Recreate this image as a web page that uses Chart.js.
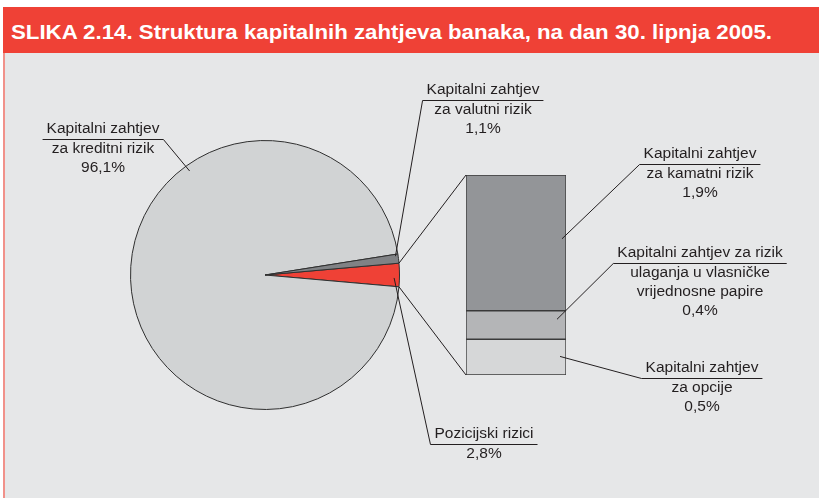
<!DOCTYPE html>
<html>
<head>
<meta charset="utf-8">
<script src="https://cdn.jsdelivr.net/npm/chart.js@4.4.1/dist/chart.umd.min.js"></script>
<style>
  html, body { margin: 0; padding: 0; background: #ffffff; }
  #wrap { position: relative; width: 819px; height: 498px; overflow: hidden; }
  #panel { position: absolute; left: 3px; top: 7px; width: 816px; height: 491px; background: #e6e7e8; }
  #edge { position: absolute; left: 3px; top: 53px; width: 2px; height: 445px; background: #f1918a; }
  #header { position: absolute; left: 3px; top: 7px; width: 816px; height: 46px; background: #ef4136; }
  #title { position: absolute; left: 11px; top: 22px; font: bold 20px "Liberation Sans Narrow", "Arial Narrow", "Liberation Sans", Arial, sans-serif; line-height: 20px; color: #ffffff; white-space: nowrap; transform-origin: 0 0; }
  #barCanvas { position: absolute; left: 461px; top: 170px; z-index: 1; }
  #pieCanvas { position: absolute; left: 0; top: 0; z-index: 2; }
</style>
</head>
<body>
<div id="wrap">
  <div id="panel"></div>
  <div id="edge"></div>
  <div id="header"></div>
  <div id="title">SLIKA 2.14. Struktura kapitalnih zahtjeva banaka, na dan 30. lipnja 2005.</div>
  <canvas id="barCanvas" width="110" height="210"></canvas>
  <canvas id="pieCanvas" width="819" height="498"></canvas>
</div>
<script>
// ---- data ----
const pieCategories = ["Pozicijski rizici", "Kapitalni zahtjev\nza kreditni rizik", "Kapitalni zahtjev\nza valutni rizik"];
const pieValues = [2.8, 96.1, 1.1];
const barCategories = ["Kapitalni zahtjev\nza opcije", "Kapitalni zahtjev za rizik\nulaganja u vlasničke\nvrijednosne papire", "Kapitalni zahtjev\nza kamatni rizik"];
const barValues = [0.5, 0.4, 1.9];

// ---- styles ----
const pieColors = ["#ef4136", "#d1d3d4", "#808285"];
const barColors = ["#d6d7d8", "#b4b5b7", "#939598"];
const ink = "#231f20";
const BAR_LEFT = 461, BAR_TOP = 170;

// fit title width
(function(){
  const t = document.getElementById('title');
  const w = t.getBoundingClientRect().width;
  const target = 761;
  t.style.transform = 'scaleX(' + (target / w) + ')';
})();

const barTotal = barValues.reduce((a,b)=>a+b,0);
const barChart = new Chart(document.getElementById('barCanvas'), {
  type: 'bar',
  data: {
    labels: [''],
    datasets: barValues.map((v,i)=>({
      label: barCategories[i],
      data: [v],
      backgroundColor: barColors[i],
      borderColor: '#3a3a3a',
      borderWidth: 1,
      borderSkipped: false,
      barPercentage: 1,
      categoryPercentage: 1
    }))
  },
  options: {
    responsive: false,
    animation: false,
    layout: { padding: 5 },
    plugins: { legend: { display: false }, tooltip: { enabled: false } },
    scales: {
      x: { stacked: true, display: false },
      y: { stacked: true, display: false, min: 0, max: barTotal }
    }
  }
});

const pieTotal = pieValues.reduce((a,b)=>a+b,0);

// label layout (positions only)
const labelLayout = [
  { src: 'pie', idx: 1, cx: 103, y1: 129, side: 'right', frac: 0.662, rf: 0.955 },
  { src: 'pie', idx: 2, cx: 483, y1: 90,  side: 'left',  frac: 0.2,   rf: 0.98 },
  { src: 'pie', idx: 0, cx: 484, y1: 434, side: 'left',  frac: 0.63,  rf: 0.96 },
  { src: 'bar', idx: 2, cx: 700, y1: 154, side: 'left',  dx: -4, yf: 0.47 },
  { src: 'bar', idx: 1, cx: 700, y1: 253, side: 'left',  dx: -9, yf: 0.3 },
  { src: 'bar', idx: 0, cx: 702, y1: 368, side: 'left',  dx: -6, yf: 0.48 }
];

function fmt(v){ return v.toFixed(1).replace('.', ',') + '%'; }

const overlay = {
  id: 'overlay',
  afterDraw(chart) {
    const ctx = chart.ctx;
    const arcs = chart.getDatasetMeta(0).data;
    const bars = barTotal ? barValues.map((_,i)=>barChart.getDatasetMeta(i).data[0]) : [];
    function barBox(el){
      const top = Math.min(el.y, el.base), bot = Math.max(el.y, el.base);
      return { left: BAR_LEFT + el.x - el.width/2, right: BAR_LEFT + el.x + el.width/2, top: BAR_TOP + top, bottom: BAR_TOP + bot };
    }
    ctx.save();
    ctx.strokeStyle = ink;
    ctx.lineWidth = 1;
    // connector lines from red slice to the stacked bar
    const red = arcs[0];
    const topBox = barBox(bars[bars.length-1]);
    const botBox = barBox(bars[0]);
    ctx.beginPath();
    ctx.moveTo(red.x + red.outerRadius*Math.cos(red.startAngle), red.y + red.outerRadius*Math.sin(red.startAngle));
    ctx.lineTo(topBox.left, topBox.top);
    ctx.moveTo(red.x + red.outerRadius*Math.cos(red.endAngle), red.y + red.outerRadius*Math.sin(red.endAngle));
    ctx.lineTo(botBox.left, botBox.bottom);
    ctx.stroke();

    ctx.font = '15.5px "Liberation Sans", Arial, sans-serif';
    ctx.fillStyle = ink;
    ctx.textAlign = 'center';
    ctx.textBaseline = 'middle';
    const lh = 19.3;
    labelLayout.forEach(L => {
      let name, value, tx, ty;
      if (L.src === 'pie') {
        name = pieCategories[L.idx]; value = pieValues[L.idx];
        const a = arcs[L.idx];
        const ang = a.startAngle + L.frac*(a.endAngle - a.startAngle);
        tx = a.x + L.rf*a.outerRadius*Math.cos(ang);
        ty = a.y + L.rf*a.outerRadius*Math.sin(ang);
      } else {
        name = barCategories[L.idx]; value = barValues[L.idx];
        const b = barBox(bars[L.idx]);
        tx = b.right + L.dx;
        ty = b.top + L.yf*(b.bottom - b.top);
      }
      const lines = name.split('\n').concat([fmt(value)]);
      lines.forEach((s,k)=> ctx.fillText(s, L.cx, L.y1 + k*lh));
      const w = ctx.measureText(lines[0]).width;
      const uy = Math.round(L.y1 + 9.5) + 0.5;
      const x0 = L.cx - w/2 - 4, x1 = L.cx + w/2 + 4;
      ctx.beginPath();
      ctx.moveTo(x0, uy); ctx.lineTo(x1, uy);
      const sx = L.side === 'left' ? x0 : x1;
      ctx.moveTo(sx, uy);
      ctx.lineTo(tx, ty);
      ctx.stroke();
    });
    ctx.restore();
  }
};

new Chart(document.getElementById('pieCanvas'), {
  type: 'pie',
  data: {
    labels: pieCategories,
    datasets: [{
      data: pieValues,
      backgroundColor: pieColors,
      borderColor: '#2f2f2f',
      borderWidth: 1
    }]
  },
  options: {
    responsive: false,
    animation: false,
    rotation: 90 - (pieValues[0]/pieTotal)*180,
    layout: { padding: { left: 130, top: 140, right: 419, bottom: 88 } },
    plugins: { legend: { display: false }, tooltip: { enabled: false } }
  },
  plugins: [overlay]
});
</script>
</body>
</html>
